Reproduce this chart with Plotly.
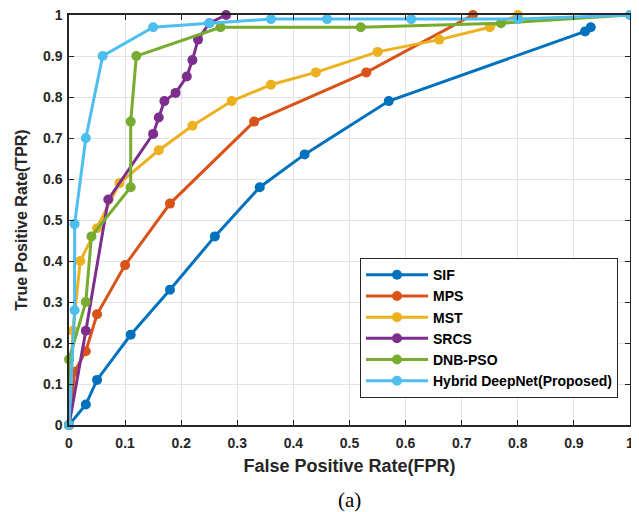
import plotly.graph_objects as go

names = ["SIF", "MPS", "MST", "SRCS", "DNB-PSO", "Hybrid DeepNet(Proposed)"]
colors = ["#0072BD", "#D95319", "#EDB120", "#7E2F8E", "#77AC30", "#4DBEEE"]

sif_x = [0, 0.03, 0.05, 0.11, 0.18, 0.26, 0.34, 0.42, 0.57, 0.92, 0.93]
sif_y = [0, 0.05, 0.11, 0.22, 0.33, 0.46, 0.58, 0.66, 0.79, 0.96, 0.97]

mps_x = [0, 0.01, 0.03, 0.05, 0.10, 0.18, 0.33, 0.53, 0.72]
mps_y = [0, 0.13, 0.18, 0.27, 0.39, 0.54, 0.74, 0.86, 1.00]

mst_x = [0, 0.007, 0.02, 0.05, 0.09, 0.16, 0.22, 0.29, 0.36, 0.44, 0.55, 0.66, 0.75, 0.80]
mst_y = [0, 0.23, 0.40, 0.48, 0.59, 0.67, 0.73, 0.79, 0.83, 0.86, 0.91, 0.94, 0.97, 1.00]

srcs_x = [0, 0.03, 0.07, 0.15, 0.16, 0.17, 0.19, 0.21, 0.22, 0.23, 0.25, 0.28]
srcs_y = [0, 0.23, 0.55, 0.71, 0.75, 0.79, 0.81, 0.85, 0.89, 0.94, 0.98, 1.00]

dnb_x = [0, 0, 0.03, 0.04, 0.11, 0.11, 0.12, 0.27, 0.52, 0.77, 1.00]
dnb_y = [0, 0.16, 0.30, 0.46, 0.58, 0.74, 0.90, 0.97, 0.97, 0.98, 1.00]

hyb_x = [0, 0.01, 0.01, 0.03, 0.06, 0.15, 0.25, 0.36, 0.46, 0.61, 0.80, 1.00]
hyb_y = [0, 0.28, 0.49, 0.70, 0.90, 0.97, 0.98, 0.99, 0.99, 0.99, 0.99, 1.00]

xs = [sif_x, mps_x, mst_x, srcs_x, dnb_x, hyb_x]
ys = [sif_y, mps_y, mst_y, srcs_y, dnb_y, hyb_y]

tick_vals = [0, 0.1, 0.2, 0.3, 0.4, 0.5, 0.6, 0.7, 0.8, 0.9, 1]
tick_text = ["0", "0.1", "0.2", "0.3", "0.4", "0.5", "0.6", "0.7", "0.8", "0.9", "1"]

fig = go.Figure()
for n, c, x, y in zip(names, colors, xs, ys):
    fig.add_trace(go.Scatter(x=x, y=y, name=n, mode="lines+markers",
                             line=dict(color=c, width=3),
                             marker=dict(color=c, size=10),
                             cliponaxis=False))

axis_common = dict(
    range=[0, 1], tickvals=tick_vals, ticktext=tick_text,
    showgrid=True, gridcolor="#e3e3e3", gridwidth=1,
    showline=True, linecolor="#262626", linewidth=1.5, mirror="allticks",
    ticks="inside", ticklen=5, tickcolor="#262626",
    tickfont=dict(family="Liberation Sans", size=14, color="#262626", weight="bold"),
    zeroline=False, automargin=False, ticklabeloverflow="allow",
)

fig.update_layout(
    width=631, height=504,
    margin=dict(l=61, r=9, t=7, b=87),
    paper_bgcolor="white", plot_bgcolor="white",
    xaxis=dict(**axis_common, ticklabelstandoff=4,
               title=dict(text="False Positive Rate(FPR)", standoff=10,
                          font=dict(family="Liberation Sans", size=18, color="#262626", weight="bold"))),
    yaxis=dict(**axis_common, ticklabelstandoff=2,
               title=dict(text="True Positive Rate(TPR)", standoff=11,
                          font=dict(family="Liberation Sans", size=16, color="#262626", weight="bold"))),
    legend=dict(x=0.9786, y=0.407, xanchor="right", yanchor="top",
                bgcolor="white", bordercolor="#262626", borderwidth=1,
                font=dict(family="Liberation Sans", size=14, color="black", weight="bold"),
                tracegroupgap=0, itemwidth=62),
    showlegend=True,
    annotations=[dict(text="(a)", xref="paper", yref="paper", x=0.5, y=-0.149,
                      xanchor="center", yanchor="top", showarrow=False,
                      font=dict(family="Liberation Serif", size=21, color="black"))],
)

fig.write_html("out.html")
